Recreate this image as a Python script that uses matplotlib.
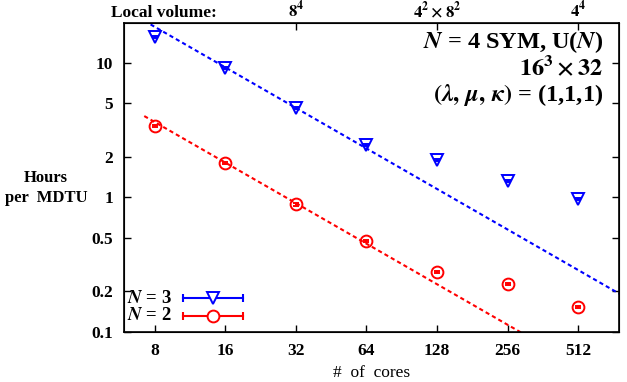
import numpy as np
import matplotlib
matplotlib.use("Agg")
import matplotlib.pyplot as plt
from matplotlib.transforms import blended_transform_factory

plt.rcParams['font.family'] = ['Liberation Serif', 'DejaVu Serif']
plt.rcParams['font.weight'] = 'bold'
plt.rcParams['mathtext.fontset'] = 'stix'

# Data
cores = [8, 16, 32, 64, 128, 256, 512]
hours_n3 = [15.6, 9.2, 4.6, 2.45, 1.9, 1.33, 0.975]
hours_n2 = [3.4, 1.8, 0.89, 0.475, 0.279, 0.227, 0.153]
err_n3 = [0.3, 0.18, 0.09, 0.05, 0.04, 0.025, 0.02]
err_n2 = [0.07, 0.04, 0.02, 0.01, 0.006, 0.005, 0.003]

# ideal scaling fits: a / cores
fit_amp_n3 = 148.0
fit_amp_n2 = 29.0
fit_range = [7.2, 800]

# top axis: local volume per core
vol_cores = [32, 128, 512]
vol_labels = [r'$\mathbf{8^4}$', r'$\mathbf{4^2\times 8^2}$', r'$\mathbf{4^4}$']

blue = '#0000ff'
red = '#ff0000'

fig = plt.figure(figsize=(6.27, 3.82), dpi=100)
ax = fig.add_axes([124/627, 1-332/382, 495/627, 309/382])

xf = np.geomspace(fit_range[0], fit_range[1], 200)
ax.plot(xf, fit_amp_n3/xf, color=blue, lw=1.5, dashes=(2, 1.5))
ax.plot(xf, fit_amp_n2/xf, color=red, lw=1.5, dashes=(2, 1.5))

ax.errorbar(cores, hours_n3, yerr=err_n3, fmt='v', ms=9, mfc='none', mec=blue,
            mew=1.4, ecolor=blue, elinewidth=1.4, capsize=2.5, capthick=1.6)
ax.errorbar(cores, hours_n2, yerr=err_n2, fmt='o', ms=8.5, mfc='none', mec=red,
            mew=1.4, ecolor=red, elinewidth=1.4, capsize=2, capthick=1.6)

ax.set_xscale('log', base=2)
ax.set_yscale('log')
ax.set_xlim(5.9, 766)
ax.set_ylim(0.1, 19.8)
ax.set_xticks(cores)
ax.set_xticklabels([str(c) for c in cores])
yt = [0.1, 0.2, 0.5, 1, 2, 5, 10]
ax.set_yticks(yt)
ax.set_yticklabels(['0.1', '0.2', '0.5', '1', '2', '5', '10'])
ax.minorticks_off()
ax.tick_params(direction='in', length=5, width=1, right=True, labelsize=12.5, pad=8)
for s in ax.spines.values():
    s.set_linewidth(1.2)

ax2 = ax.twiny()
ax2.set_xscale('log', base=2)
ax2.set_xlim(ax.get_xlim())
ax2.set_xticks(vol_cores)
ax2.set_xticklabels([])
ax2.minorticks_off()
ax2.tick_params(direction='in', length=5, width=1)

top_y = (332 - 17) / 309
for c, lab in zip(vol_cores, vol_labels):
    ax.text(c, top_y, lab, transform=ax.get_xaxis_transform(), ha='center',
            va='baseline', fontsize=12)
ax.text(164/627, top_y, 'Local volume:', ha='center', va='baseline', fontsize=12.5,
        transform=blended_transform_factory(fig.transFigure, ax.transAxes))

ax.set_xlabel('#  of  cores', fontsize=12.5, labelpad=4)
fig.text(46/627, 1-188/382, 'Hours\nper  MDTU', ha='center', va='center',
         fontsize=12, linespacing=1.35)

# annotation block
tx = 0.968
ax.text(tx, 0.919, r'$N$ = 4 SYM, U($N$)', transform=ax.transAxes, ha='right',
        va='baseline', fontsize=17.5)
ax.text(tx, 0.832, r'$\mathbf{16^3}\times\mathbf{32}$', transform=ax.transAxes, ha='right',
        va='baseline', fontsize=17.5)
ax.text(tx, 0.748, r'$(\lambda,\,\mu,\,\kappa)$ = (1,1,1)', transform=ax.transAxes,
        ha='right', va='baseline', fontsize=17.5)

# key
rows = [(0.110, r'$N$ = 3', blue, 'v', 9), (0.052, r'$N$ = 2', red, 'o', 8.5)]
for y, lab, c, m, ms in rows:
    ax.text(0.006, y, lab, transform=ax.transAxes, ha='left', va='center', fontsize=13.5)
    ax.plot([0.119, 0.240], [y, y], transform=ax.transAxes, color=c, lw=1.5, clip_on=False)
    ax.plot([0.119, 0.240], [y, y], transform=ax.transAxes, ls='none', marker='|',
            ms=6, mew=1.5, color=c, clip_on=False)
    ax.plot([0.180], [y], transform=ax.transAxes, ls='none', marker=m, ms=ms, mfc='white',
            mec=c, mew=1.4, clip_on=False)

fig.savefig('out.png', dpi=100)
